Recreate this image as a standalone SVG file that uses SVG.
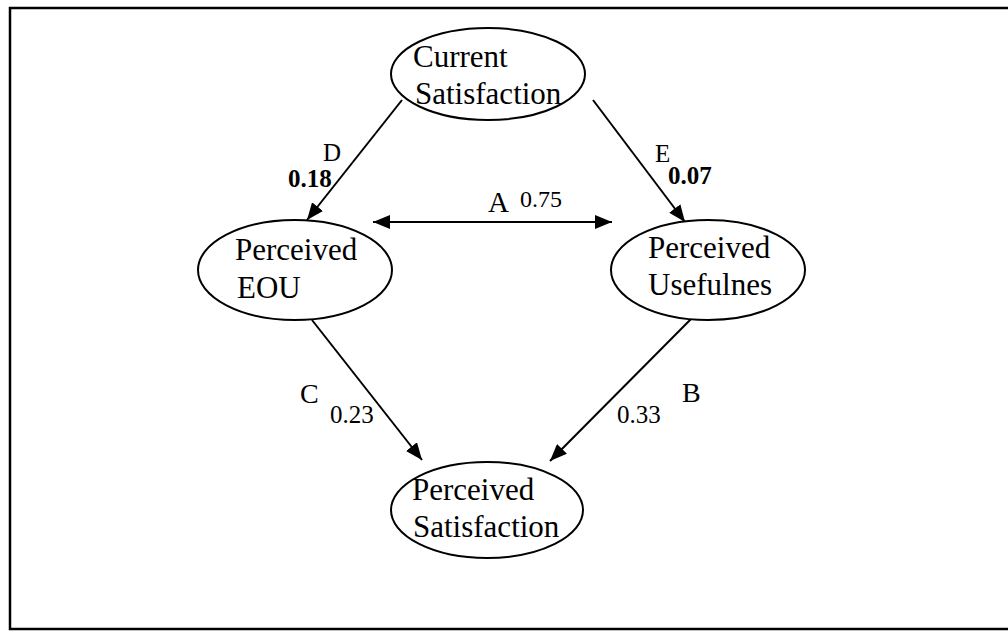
<svg xmlns="http://www.w3.org/2000/svg" width="1008" height="632" viewBox="0 0 1008 632">
  <style>
    .frame { fill: none; stroke: #000; stroke-width: 2.5; }
    .node ellipse { fill: #fff; stroke: #000; stroke-width: 2; }
    .node text { font-family: "Liberation Serif", "Times New Roman", serif; font-size: 31px; fill: #000; }
    .edge { fill: none; stroke: #000; stroke-width: 2; marker-end: url(#head); }
    .lbl { font-family: "Liberation Serif", "Times New Roman", serif; fill: #000; }
    .letter { font-size: 28px; }
    .coef { font-size: 25px; }
    .bold { font-weight: bold; }
  </style>
  <defs>
    <marker id="head" markerUnits="userSpaceOnUse" markerWidth="17" markerHeight="14" refX="17" refY="7" orient="auto-start-reverse">
      <path d="M0,0 L17,7 L0,14 z" fill="#000"/>
    </marker>
  </defs>

  <rect width="1008" height="632" fill="#fff"/>
  <!-- outer frame (right side runs past the canvas) -->
  <rect class="frame" x="10" y="8" width="1010" height="621"/>

  <!-- connectors -->
  <g id="connectors">
    <line class="edge" x1="402" y1="100" x2="307" y2="220"/>
    <line class="edge" x1="593" y1="100" x2="685" y2="222"/>
    <line class="edge" x1="373" y1="222" x2="612" y2="222" style="marker-start:url(#head)"/>
    <line class="edge" x1="312" y1="320" x2="422" y2="460"/>
    <line class="edge" x1="692" y1="318" x2="550" y2="461"/>

    <text class="lbl letter" x="323" y="161" style="font-size:25px">D</text>
    <text class="lbl coef bold" x="288" y="187">0.18</text>
    <text class="lbl letter" x="655" y="162" style="font-size:25px">E</text>
    <text class="lbl coef bold" x="668" y="184">0.07</text>
    <text class="lbl letter" x="488" y="212" style="font-size:29px">A</text>
    <text class="lbl coef" x="520" y="207" style="font-size:24px">0.75</text>
    <text class="lbl letter" x="300" y="403">C</text>
    <text class="lbl coef" x="330" y="423">0.23</text>
    <text class="lbl letter" x="682" y="402">B</text>
    <text class="lbl coef" x="617" y="423">0.33</text>
  </g>

  <g id="current-satisfaction" class="node">
    <ellipse cx="488" cy="74" rx="97" ry="46"/>
    <text x="413" y="67">Current</text>
    <text x="415" y="104">Satisfaction</text>
  </g>

  <g id="perceived-eou" class="node">
    <ellipse cx="295" cy="270" rx="97" ry="50"/>
    <text x="235" y="260">Perceived</text>
    <text x="237" y="298">EOU</text>
  </g>

  <g id="perceived-usefulness" class="node">
    <ellipse cx="708" cy="270" rx="97" ry="50"/>
    <text x="648" y="258">Perceived</text>
    <text x="648" y="295">Usefulnes</text>
  </g>

  <g id="perceived-satisfaction" class="node">
    <ellipse cx="487" cy="510" rx="96" ry="48"/>
    <text x="412" y="500">Perceived</text>
    <text x="413" y="537">Satisfaction</text>
  </g>
</svg>
